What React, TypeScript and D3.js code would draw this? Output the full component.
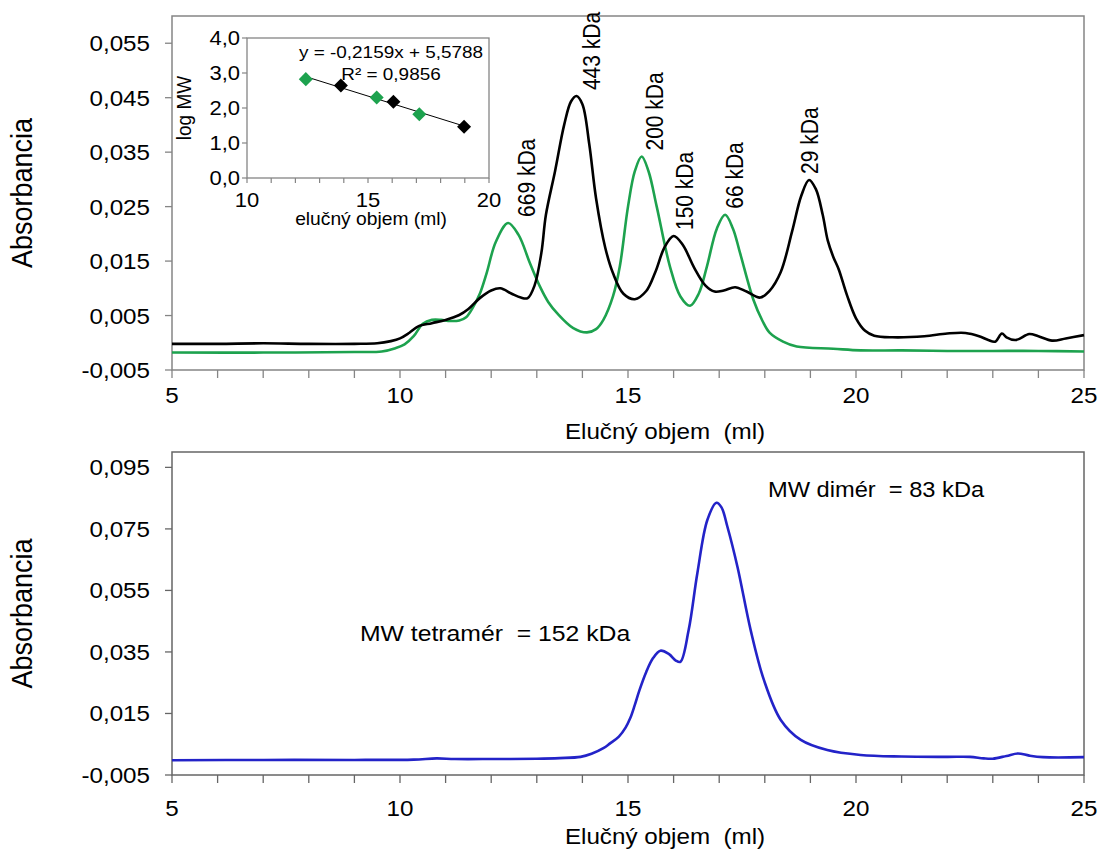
import React from "react";
import * as d3 from "d3";

// --- top chart: calibration standards (elution volume ml / absorbance)
const blackMl = [5, 6, 7, 8, 9, 9.5, 9.8, 10, 10.2, 10.4, 10.7, 11, 11.3, 11.5, 11.75, 12, 12.2, 12.45, 12.65, 12.8, 12.95, 13.1, 13.2, 13.4, 13.6, 13.75, 13.87, 14.0, 14.15, 14.3, 14.5, 14.67, 14.9, 15.15, 15.4, 15.6, 15.8, 16, 16.2, 16.45, 16.7, 16.9, 17.1, 17.35, 17.6, 17.9, 18.1, 18.35, 18.6, 18.8, 18.97, 19.12, 19.27, 19.38, 19.5, 19.62, 19.8, 20, 20.2, 20.4, 20.8, 21.5, 22, 22.4, 22.7, 22.9, 23.05, 23.2, 23.3, 23.5, 23.8, 24, 24.3, 24.6, 25];
const blackAbs = [-0.0002, -0.0002, -0.0001, -0.0002, -0.0002, -0.0001, 0.0003, 0.0008, 0.0018, 0.003, 0.0036, 0.0042, 0.0051, 0.0062, 0.0082, 0.0096, 0.01, 0.009, 0.0083, 0.0082, 0.0105, 0.0165, 0.0235, 0.0315, 0.04, 0.0443, 0.0453, 0.0438, 0.0365, 0.0265, 0.0175, 0.0128, 0.009, 0.008, 0.0095, 0.013, 0.0175, 0.0196, 0.018, 0.0138, 0.0105, 0.0094, 0.0096, 0.0102, 0.0094, 0.0083, 0.0095, 0.013, 0.0205, 0.027, 0.0299, 0.0282, 0.0235, 0.0188, 0.0158, 0.0135, 0.0088, 0.0045, 0.0022, 0.0013, 0.001, 0.0012, 0.0017, 0.0018, 0.0012, 0.0005, 0.0002, 0.0017, 0.001, 0.0005, 0.0016, 0.0012, 0.0004, 0.0008, 0.0014];

const greenMl = [5, 7, 9, 9.6, 9.9, 10.1, 10.3, 10.5, 10.7, 10.9, 11.1, 11.3, 11.45, 11.6, 11.75, 11.9, 12.1, 12.37, 12.6, 12.85, 13.07, 13.25, 13.45, 13.8, 14.1, 14.3, 14.46, 14.67, 14.82, 15, 15.15, 15.3, 15.45, 15.63, 15.92, 16.15, 16.36, 16.55, 16.73, 16.95, 17.13, 17.3, 17.46, 17.75, 17.95, 18.11, 18.4, 18.7, 19.5, 20.1, 21, 22, 23, 24, 25];
const greenAbs = [-0.0018, -0.0018, -0.0017, -0.0016, -0.001, -0.0003, 0.0012, 0.0035, 0.0042, 0.0042, 0.004, 0.0041, 0.0047, 0.0065, 0.009, 0.0128, 0.0185, 0.022, 0.0198, 0.0146, 0.0103, 0.0075, 0.0054, 0.0027, 0.0019, 0.0025, 0.0042, 0.0085, 0.014, 0.025, 0.0315, 0.0342, 0.0315, 0.025, 0.014, 0.0085, 0.0068, 0.009, 0.014, 0.021, 0.0235, 0.021, 0.0164, 0.0079, 0.004, 0.0018, 0.0002, -0.0007, -0.0011, -0.0014, -0.0014, -0.0015, -0.0015, -0.0015, -0.0016];

const peakLabels = ["669 kDa", "443 kDa", "200 kDa", "150 kDa", "66 kDa", "29 kDa"];
const peakMl = [12.37, 13.87, 15.3, 16.0, 17.13, 18.97];
const peakSeries = ["green", "black", "green", "black", "green", "black"];
const peakLabelMl = [12.78, 14.21, 15.59, 16.24, 17.35, 19.0];

// --- inset: calibration curve
const stdMl = [12.43, 13.88, 15.36, 16.05, 17.12, 18.97];
const stdLogMw = [2.825, 2.646, 2.301, 2.176, 1.82, 1.462];
const stdSeries = ["green", "black", "green", "black", "green", "black"];
const slope = -0.2159;
const intercept = 5.5788;

// --- bottom chart: sample
const blueMl = [5, 7, 9, 10.3, 10.8, 11.2, 12, 13, 13.5, 13.96, 14.2, 14.47, 14.6, 14.8, 14.95, 15.05, 15.15, 15.25, 15.4, 15.55, 15.71, 15.9, 16.05, 16.15, 16.33, 16.52, 16.74, 16.94, 17.05, 17.18, 17.4, 17.69, 17.98, 18.35, 18.79, 19.37, 20.1, 21, 22, 22.5, 22.8, 23, 23.3, 23.55, 23.8, 24.1, 25];
const blueAbs = [-0.0002, -0.0001, -0.0001, 0, 0.0004, 0.0002, 0.0002, 0.0003, 0.0005, 0.0009, 0.0019, 0.0038, 0.0052, 0.0075, 0.0105, 0.0135, 0.0178, 0.0225, 0.0285, 0.033, 0.0354, 0.0343, 0.0322, 0.0318, 0.0421, 0.0605, 0.0779, 0.0835, 0.082, 0.0757, 0.0627, 0.0421, 0.0259, 0.0129, 0.0064, 0.0031, 0.0015, 0.001, 0.0009, 0.0009, 0.0004, 0.0003, 0.0012, 0.002, 0.0013, 0.0008, 0.0008];

const xTicks = [5, 10, 15, 20, 25];
const topYTicks = [-0.005, 0.005, 0.015, 0.025, 0.035, 0.045, 0.055];
const botYTicks = [-0.005, 0.015, 0.035, 0.055, 0.075, 0.095];
const insetXTicks = [10, 15, 20];
const insetYTicks = [0, 1, 2, 3, 4];

const FONT = "'Liberation Sans', Arial, sans-serif";
const SX = 1.1; // the reference is slightly stretched horizontally
const GREEN = "#1da24e";
const BLUE = "#2323c8";
const FRAME = "#858585";

const comma = (v: number, d: number) => v.toFixed(d).replace(".", ",");

function T({ x, y, size, anchor = "start", rotate = 0, children }: any) {
  return (
    <g transform={`translate(${x},${y}) scale(${SX},1) rotate(${rotate})`}>
      <text x={0} y={0} fontSize={size} textAnchor={anchor} fontFamily={FONT} fill="#000" style={{ whiteSpace: "pre" }}>
        {children}
      </text>
    </g>
  );
}

function Axes({ x, y, yTicks, title, labelDy, frame }: any) {
  const [x0, x1] = x.range();
  const [y0, y1] = y.range();
  const minor = d3.range(x.domain()[0], x.domain()[1] + 0.5, 1);
  return (
    <g>
      <rect x={x0} y={y1} width={x1 - x0} height={y0 - y1} fill="none" stroke={frame} strokeWidth={1.5} />
      {minor.map((m: number) => (
        <line key={m} x1={x(m)} x2={x(m)} y1={y0} y2={y0 + 8} stroke={frame} strokeWidth={1.3} />
      ))}
      {yTicks.map((t: number) => (
        <line key={t} x1={x0 - 7} x2={x0} y1={y(t)} y2={y(t)} stroke={frame} strokeWidth={1.3} />
      ))}
      {yTicks.map((t: number) => (
        <T key={t} x={150} y={y(t) + 8} size={22} anchor="end">{comma(t, 3)}</T>
      ))}
      {xTicks.map((t: number) => (
        <T key={t} x={x(t)} y={y0 + labelDy} size={22} anchor="middle">{t}</T>
      ))}
      <T x={665} y={y0 + 69} size={22} anchor="middle">{title}</T>
      <T x={32} y={(y0 + y1) / 2} size={27} anchor="middle" rotate={-90}>Absorbancia</T>
    </g>
  );
}

export default function App() {
  const xTop = d3.scaleLinear().domain([5, 25]).range([172, 1084]);
  const yTop = d3.scaleLinear().domain([-0.005, 0.06]).range([370, 16]);
  const xBot = d3.scaleLinear().domain([5, 25]).range([172, 1084]);
  const yBot = d3.scaleLinear().domain([-0.005, 0.1]).range([775, 452]);
  const xIn = d3.scaleLinear().domain([10, 20]).range([247, 489]);
  const yIn = d3.scaleLinear().domain([0, 4]).range([178, 38]);

  const mk = (xs: number[], ys: number[], sx: any, sy: any) =>
    d3.line<number>()
      .x((_, i) => sx(xs[i]))
      .y((v) => sy(v))
      .curve(d3.curveCatmullRom.alpha(0.5))(ys) as string;

  const seriesAt = (name: string, ml: number) => {
    const xs = name === "green" ? greenMl : blackMl;
    const ys = name === "green" ? greenAbs : blackAbs;
    let best = 0;
    xs.forEach((m, i) => { if (Math.abs(m - ml) < Math.abs(xs[best] - ml)) best = i; });
    return ys[best];
  };

  const fitX = [stdMl[0], stdMl[stdMl.length - 1]];
  const diamond = d3.symbol().type(d3.symbolDiamond2).size(125)() as string;

  return (
    <svg width={1099} height={850} style={{ position: "absolute", left: 0, top: 0, background: "#fff" }}>
      <rect width={1099} height={850} fill="#fff" />
      <Axes x={xTop} y={yTop} yTicks={topYTicks} title="Elučný objem  (ml)" labelDy={33} frame={FRAME} />
      <Axes x={xBot} y={yBot} yTicks={botYTicks} title="Elučný objem  (ml)" labelDy={41} frame="#666" />

      <path d={mk(greenMl, greenAbs, xTop, yTop)} fill="none" stroke={GREEN} strokeWidth={2.6} />
      <path d={mk(blackMl, blackAbs, xTop, yTop)} fill="none" stroke="#000" strokeWidth={2.6} />
      <path d={mk(blueMl, blueAbs, xBot, yBot)} fill="none" stroke={BLUE} strokeWidth={2.6} />

      {peakLabels.map((lab, i) => (
        <T key={lab} x={xTop(peakLabelMl[i]) + 8} y={yTop(seriesAt(peakSeries[i], peakMl[i])) - 6} size={21} rotate={-90}>
          {lab}
        </T>
      ))}

      {/* inset calibration plot */}
      <rect x={247} y={38} width={242} height={140} fill="#fff" stroke={FRAME} strokeWidth={1.3} />
      {d3.range(10, 21, 1).map((m) => (
        <line key={m} x1={xIn(m)} x2={xIn(m)} y1={178} y2={183} stroke={FRAME} strokeWidth={1.2} />
      ))}
      {insetYTicks.map((t) => (
        <line key={t} x1={242} x2={247} y1={yIn(t)} y2={yIn(t)} stroke={FRAME} strokeWidth={1.2} />
      ))}
      {insetYTicks.map((t) => (
        <T key={t} x={240} y={yIn(t) + 7} size={20} anchor="end">{comma(t, 1)}</T>
      ))}
      {insetXTicks.map((t) => (
        <T key={t} x={xIn(t)} y={207} size={20} anchor="middle">{t}</T>
      ))}
      <T x={371} y={225} size={17.5} anchor="middle">elučný objem (ml)</T>
      <T x={191} y={108} size={19} anchor="middle" rotate={-90}>log MW</T>
      <line x1={xIn(fitX[0])} x2={xIn(fitX[1])} y1={yIn(slope * fitX[0] + intercept)} y2={yIn(slope * fitX[1] + intercept)} stroke="#000" strokeWidth={1} />
      {stdMl.map((m, i) => (
        <path key={m} d={diamond} transform={`translate(${xIn(m)},${yIn(stdLogMw[i])})`} fill={stdSeries[i] === "green" ? GREEN : "#000"} />
      ))}
      <T x={299} y={58} size={17.2}>y = -0,2159x + 5,5788</T>
      <T x={391} y={80} size={17.2} anchor="middle">R² = 0,9856</T>

      {/* bottom annotations */}
      <T x={768} y={497} size={21.5}>MW dimér  = 83 kDa</T>
      <T x={360} y={641} size={22.5}>MW tetramér  = 152 kDa</T>
    </svg>
  );
}
